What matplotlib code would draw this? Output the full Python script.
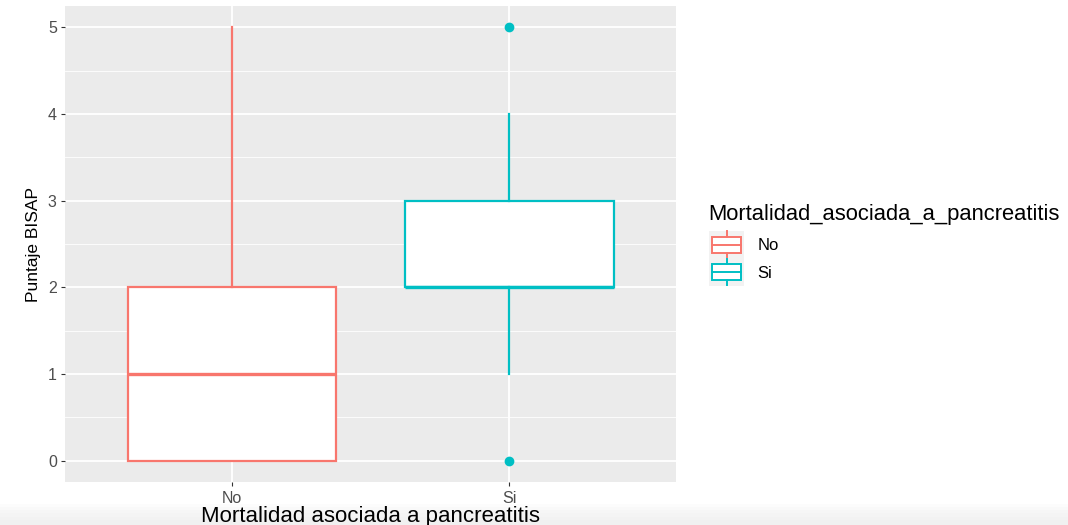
import matplotlib.pyplot as plt
from matplotlib.patches import Rectangle
from matplotlib.lines import Line2D
from matplotlib.legend_handler import HandlerBase

plt.rcParams['font.family'] = ['Liberation Sans', 'DejaVu Sans']

# box statistics
groups = ["No", "Si"]
q1 = [0, 2]
medians = [1, 2]
q3 = [2, 3]
whisker_low = [0, 1]
whisker_high = [5, 4]
outliers = [[], [0, 5]]
colors = ["#F8766D", "#00BFC4"]


class BoxKey(HandlerBase):
    # small boxplot glyph like the ggplot legend key
    def create_artists(self, legend, orig, xd, yd, w, h, fontsize, trans):
        c = orig.get_color()
        x0, y0 = -xd + 3, -yd
        bg = Rectangle((x0 - 2, y0 - 0.3 * h), w + 4, 1.6 * h,
                       facecolor="#F2F2F2", edgecolor="none", transform=trans)
        box = Rectangle((x0, y0 + 0.05 * h), w, 0.9 * h, facecolor="white",
                        edgecolor=c, linewidth=1.4, transform=trans)
        mid = Line2D([x0, x0 + w], [y0 + 0.5 * h] * 2, color=c, lw=1.4,
                     transform=trans)
        up = Line2D([x0 + w / 2] * 2, [y0 + 0.95 * h, y0 + 1.25 * h], color=c,
                    lw=1.4, transform=trans)
        dn = Line2D([x0 + w / 2] * 2, [y0 - 0.25 * h, y0 + 0.05 * h], color=c,
                    lw=1.4, transform=trans)
        return [bg, box, mid, up, dn]


fig = plt.figure(figsize=(10.68, 5.25), dpi=100)
ax = fig.add_axes([0.061, 0.081, 0.572, 0.908])
ax.set_facecolor("#EBEBEB")

stats = []
for i, g in enumerate(groups):
    stats.append({"label": g, "q1": q1[i], "med": medians[i], "q3": q3[i],
                  "whislo": whisker_low[i], "whishi": whisker_high[i],
                  "fliers": outliers[i]})

pos = list(range(1, len(groups) + 1))
bp = ax.bxp(stats, positions=pos, widths=0.75, patch_artist=True,
            showcaps=False, zorder=3)
for i, c in enumerate(colors):
    bp["boxes"][i].set(facecolor="white", edgecolor=c, linewidth=1.6)
    bp["medians"][i].set(color=c, linewidth=2.4)
    for w in bp["whiskers"][2 * i:2 * i + 2]:
        w.set(color=c, linewidth=1.6)
    bp["fliers"][i].set(marker="o", markerfacecolor=c, markeredgecolor=c,
                        markersize=6)

ax.set_xlim(0.4, 2.6)
ax.set_ylim(-0.25, 5.25)
ax.set_yticks([0, 1, 2, 3, 4, 5])
ax.set_yticks([0.5, 1.5, 2.5, 3.5, 4.5], minor=True)
ax.set_xticks(pos)
ax.set_xticklabels(groups)
ax.grid(True, which="major", color="white", linewidth=1.3, zorder=0)
ax.grid(True, which="minor", axis="y", color="white", linewidth=0.6, zorder=0)
ax.set_axisbelow(True)
for s in ax.spines.values():
    s.set_visible(False)
ax.tick_params(which="major", length=3, color="#333333", labelcolor="#4D4D4D",
               labelsize=11.5, pad=3)
ax.tick_params(which="minor", length=0)

ax.set_xlabel("Mortalidad asociada a pancreatitis", fontsize=16, labelpad=0)
ax.set_ylabel("Puntaje BISAP", fontsize=12.5, labelpad=5)

handles = [Line2D([], [], color=c) for c in colors]
leg = fig.legend(handles, groups, title="Mortalidad_asociada_a_pancreatitis",
                 handler_map={Line2D: BoxKey()},
                 loc="upper left", bbox_to_anchor=(0.663, 0.612),
                 frameon=False, fontsize=12, title_fontsize=15.8,
                 handlelength=1.75, handleheight=1.25,
                 handletextpad=1.2, labelspacing=0.6, borderaxespad=0,
                 borderpad=0)
leg._legend_box.align = "left"
leg._legend_box.sep = 8

# faint shadow band at the bottom of the screenshot
for k in range(6):
    fig.patches.append(Rectangle((0, 0), 1, 0.04 - k * 0.006,
                                 transform=fig.transFigure, facecolor="#E8E8E8",
                                 alpha=0.12, edgecolor="none", zorder=-1))

fig.savefig("out.png", dpi=100)
